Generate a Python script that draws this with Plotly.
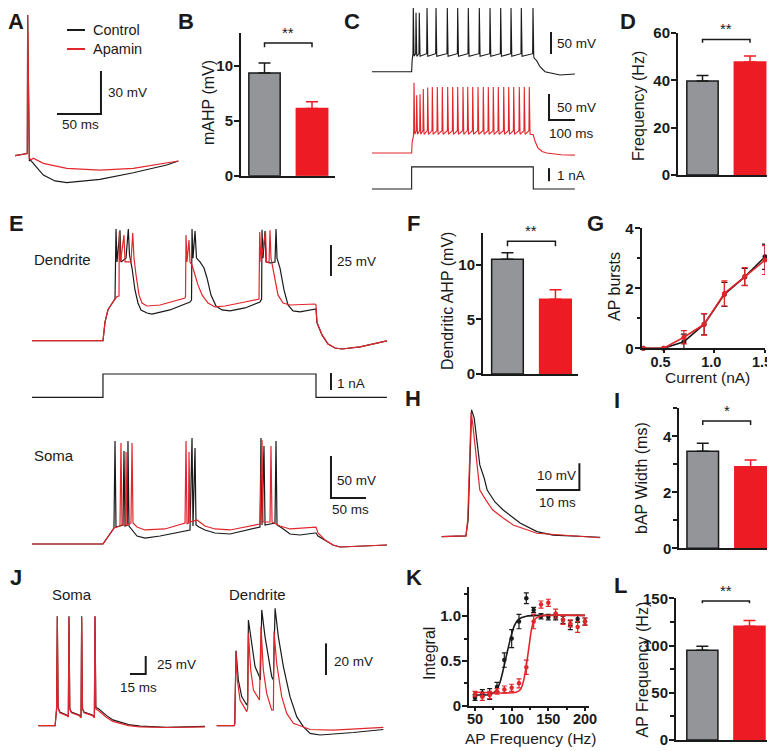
import plotly.graph_objects as go

# ── CONFIG ────────────────────────────────────────────────────────────────────

W, H = 775, 751          # target picture size
OX, OY = 8, 8            # page body margin the figure sits inside
FW, FH = W - OX, H - OY  # actual figure size
FONT = "Liberation Sans, Arial, sans-serif"
INK = "#1a1a1a"
RED = "#e3262c"
GRAY_BAR = "#939598"
RED_BAR = "#ed1c24"

# ── DATA ──────────────────────────────────────────────────────────────────────

# A: single AP + mAHP, (ms, mV)
A_CTRL = [(3.4, -64.1), (14.8, -62.9), (17.4, -62.6), (17.8, 34.1), (18.8, -60.1), (19.7, -67.8),
          (21, -67.1), (26.1, -70.6), (35.6, -77.6), (48.9, -81.7), (62.2, -82.9), (100, -80.6),
          (137.8, -76), (175.8, -70.6), (189, -67.8)]
A_APA = [(3.4, -64.1), (14.8, -62.9), (17.4, -62.6), (17.8, 34.1), (18.8, -60.1), (19.7, -65.7),
         (21.6, -67.1), (24.2, -65.9), (35.6, -69.4), (62.2, -72.9), (100, -74.1), (137.8, -72.9),
         (189, -67.8)]

# bar panels: Control, Apamin (mean, sem)
B_MEAN, B_SEM = [9.35, 6.12], [0.91, 0.61]
D_MEAN, D_SEM = [39.7, 47.7], [2.3, 2.6]
F_MEAN, F_SEM = [10.5, 6.85], [0.6, 0.85]
I_MEAN, I_SEM = [3.47, 2.91], [0.28, 0.24]
L_MEAN, L_SEM = [95.0, 120.5], [4.3, 6.1]

# C: spike trains during 1 nA step (ms, mV)
C_CTRL_SPIKES = [98.3, 104.8, 112.6, 131, 152.4, 179.3, 204, 229.3, 255.5, 281, 306.4, 331, 355.5, 383.3]
C_CTRL_PEAKS = [86.6, 69, 69, 81.4, 81.4, 81, 81.4, 81, 81.4, 81, 81.4, 81, 81.4, 82]
C_CTRL_THR, C_CTRL_AHP = -24, -30
C_CTRL_HEAD = [(0, -65), (94.4, -65), (95.5, -40), (97.3, -31)]
C_CTRL_TAIL = [(386, -34), (392, -40), (400, -53.6), (412, -65), (447.6, -72.5), (483, -70.2)]

C_APA_SPIKES = [100, 106.4, 114.3, 122.1, 132.6, 143.6, 155.5, 167.4, 180.2, 192.1, 204, 216.7,
                227.9, 239.8, 252.4, 265, 276.9, 288.8, 300.7, 313.6, 325.5, 337.4, 350.7, 362.6, 374.5]
C_APA_PEAKS = [70, 46, 48, 58, 61, 62, 62, 62, 62, 62, 62, 62, 62, 62, 62, 62, 62, 62, 62, 62,
               62, 62, 62, 62, 62]
C_APA_THR, C_APA_AHP = -22, -29
C_APA_HEAD = [(0, -65), (94.4, -65), (95.5, -45), (98.5, -33)]
C_APA_TAIL = [(384, -30), (388, -42), (395, -55), (405, -62), (416, -65), (450, -68.5), (483, -69)]

C_CURRENT = [(0, 0), (94.4, 0), (94.4, 1.7), (384, 1.7), (384, 0), (483, 0)]

# E: dendritic and somatic recordings during step (ms, mV)
E_DEND_CTRL = [(0, -65), (101.4, -65), (104.3, -50), (108.6, -40), (114.3, -35), (118.6, -31),
               (120, 25), (121.4, -1.5), (125.7, 24), (127.1, -1.5), (134.3, 1.6), (137.6, 25),
               (139.3, 4), (142.9, -6.4), (147.1, -24.1), (151.4, -34.6), (155.7, -40.2),
               (164.3, -42.7), (171.4, -43.5), (197, -40.2), (225.7, -33.8), (227.9, -32.2),
               (228.6, 25), (230, 1.6), (232.9, 23.5), (235, 1.6), (240, -1.5), (245.7, -6.4),
               (250, -14.4), (255.7, -28.2), (262.9, -37), (271.4, -40.2), (282.9, -41),
               (304.3, -38.6), (325.7, -33.8), (328, -31.4), (328.6, 24.4), (330, 1.6),
               (332.9, 23.5), (334.3, -1.5), (341.4, -2.3), (347.1, -1.5), (348.6, 25), (350, 1.6),
               (354.3, -6.4), (360, -24.1), (365.7, -36.2), (372.9, -41), (382.9, -41.8),
               (404.3, -39.4), (405.7, -39.4), (407.1, -50.6), (414.3, -60.3), (422.9, -67.7),
               (432.9, -70.9), (442.9, -71.7), (468.6, -70), (507, -65.2)]
E_DEND_APA = [(0, -65), (101.4, -65), (104.3, -50), (108.6, -40), (114.3, -35), (121.4, -29.4),
              (124.3, -29), (124.7, 22.7), (126.4, -1.5), (131.4, 20.2), (132.9, -1.5), (141.4, -1.5),
              (143.9, 21.9), (145.7, 1.6), (148.6, -12), (152.9, -28.1), (157.1, -34.6), (164.3, -37),
              (182.9, -36.2), (218.6, -30.6), (219.3, -29), (220, 20.2), (221.4, -1.5), (224.3, 16.2),
              (225.7, -1.5), (228.6, -4), (232.9, -12), (237.1, -20), (242.9, -28.1), (251.4, -34.6),
              (261.4, -37.8), (275.7, -37), (304.3, -33.8), (324.3, -31.4), (325.3, 22.7),
              (327.1, -1.5), (333.6, 22.7), (335, -1.5), (338.6, -2.3), (340, 24), (341.4, 1.6),
              (345.7, -12), (351.4, -28.1), (358.6, -34.6), (368.6, -36.2), (404.3, -35.4),
              (405.7, -36.2), (407.1, -50), (414.3, -60.3), (422.9, -67.7), (432.9, -70.9),
              (442.9, -71.7), (468.6, -70), (507, -65.2)]
E_SOMA_CTRL = [(0, -65), (101.4, -65), (117.1, -46), (118.6, 57.6), (120, -44.8), (130, -42.4),
               (131.4, 45.7), (132.9, -43.6), (136.4, -42.4), (137.1, 57.6), (138.6, -43.6),
               (142.9, -48.3), (150, -55.5), (161.4, -57.9), (182.9, -55.5), (225.7, -48.3),
               (228.6, 61.2), (230, -43.6), (232.9, 49.3), (234.3, -42.4), (238.6, -44.8),
               (247.1, -48.3), (261.4, -51.9), (282.9, -53.1), (325.7, -44.8), (327.1, 61.2),
               (328.6, -42.4), (331.4, 51.7), (332.9, -42.4), (347.1, -40), (348.6, 57.6),
               (350, -42.4), (357.1, -46), (368.6, -53.1), (382.9, -54.3), (404.3, -51.9),
               (405.7, -51.9), (408.6, -55.5), (418.6, -60.2), (430, -66.2), (440, -68.6), (507, -66.2)]
E_SOMA_APA = [(0, -65), (101.4, -65), (117.1, -46), (125.7, -43.6), (127.1, 55.2), (128.6, -42.4),
              (133.5, -42.4), (134.3, 44.5), (135.7, -42.4), (141.4, -40), (142.9, 55.2), (144.3, -40),
              (150, -44.8), (161.4, -48.3), (190, -47.1), (218.6, -40), (220, 57.6), (221.4, -41.2),
              (223.5, -40), (224.3, 44.5), (225.7, -38.8), (235.7, -36.4), (247.1, -43.6),
              (261.4, -47.1), (282.9, -48.3), (325.7, -41.2), (328.6, 58.8), (330, -38.8), (340, -38.8),
              (341.4, 51.7), (342.9, -38.8), (354.3, -43.6), (368.6, -47.1), (404.3, -44.8),
              (405.7, -44.8), (408.6, -51.9), (418.6, -60.2), (430, -66.2), (440, -68.6), (507, -66.2)]
E_CURRENT = [(0, 0), (101.4, 0), (101.4, 1.37), (405.7, 1.37), (405.7, 0), (507, 0)]

# G: AP bursts vs current
G_CURRENT = [0.3, 0.5, 0.7, 0.9, 1.1, 1.3, 1.5]
G_CTRL = [0, 0, 0.22, 0.8, 1.8, 2.38, 3.05]
G_CTRL_SEM = [0, 0, 0.25, 0.35, 0.4, 0.28, 0.42]
G_APA = [0, 0, 0.37, 0.8, 1.83, 2.39, 2.94]
G_APA_SEM = [0, 0, 0.22, 0.36, 0.42, 0.3, 0.48]

# H: backpropagating AP (ms, mV)
H_CTRL = [(0, -65), (5.6, -64.7), (6.1, -58.8), (6.5, -36.3), (6.9, -17.5), (7.5, -20.5),
          (8.2, -30.6), (8.8, -38.1), (9.8, -43), (10.5, -47.5), (12.3, -52), (14.2, -55),
          (18.1, -59.9), (22, -63.1), (25.7, -64.4), (36.6, -65.2)]
H_APA = [(0, -65), (5.6, -64.7), (6, -58.8), (6.4, -36.3), (6.8, -18.3), (7.2, -23.2),
         (7.7, -30.6), (8.2, -39.2), (8.8, -47.5), (10.2, -51.3), (11.8, -55), (14.2, -58),
         (16.5, -60.6), (22, -63.7), (36.6, -65.4)]

# J: 4-AP trains, soma and dendrite (ms, mV)
J_SOMA_CTRL = [(0, -65), (16, -65), (17.4, -42), (18.1, 87), (18.9, -40), (20.5, -46), (27, -50),
               (28.6, -52), (29.2, 87), (30, -41), (31.5, -46), (39, -50), (40.7, -53), (41.3, 87),
               (42.1, -41), (43.5, -46), (51.5, -50), (53.4, -53), (54, 87), (54.8, -40),
               (57.1, -41), (61, -46), (65.1, -51), (71, -57), (77.8, -60), (86, -63.5),
               (96.9, -65.5), (122.3, -67.2), (158.8, -66)]
J_SOMA_APA = [(0, -65), (16, -65), (17.4, -42), (18.1, 87), (18.9, -41), (20.5, -47), (27, -51),
              (28.6, -53), (29.2, 86), (30, -42), (31.5, -47), (39, -51), (40.7, -54), (41.3, 86),
              (42.1, -42), (43.5, -47), (51.5, -51), (53.4, -54), (54, 87), (54.8, -42),
              (57.1, -44), (61, -49), (65.1, -53.5), (71, -59), (77.8, -62), (86, -65),
              (96.9, -66.5), (122.3, -67.5), (158.8, -66.5)]
J_DEND_CTRL = [(0, -65), (16.5, -65), (17.2, -64), (18.4, -17.5), (20.6, -36.1), (23.8, -46.6),
               (28.6, -51.9), (29.5, -50), (30.2, 1.9), (33.4, -14.9), (36.5, -27.6), (40.7, -34),
               (41.6, -36.1), (42.9, 8.3), (46, -8.6), (49.2, -21.3), (52.4, -34), (54, -36.1),
               (55.6, 9.3), (58.7, -8.6), (63.5, -27.6), (69.8, -46.6), (76.2, -59.3),
               (82.5, -65.6), (88.9, -69.9), (98.4, -70.9), (111.1, -70.3), (130.2, -69.3),
               (158.7, -67.4)]
J_DEND_APA = [(0, -65), (16.5, -65), (17.2, -64), (18.4, -18.1), (19.7, -36.1), (22.2, -48.7),
              (28.6, -56.1), (29.5, -54), (30.2, -6.5), (32.4, -29.7), (35, -42.4), (40.7, -48.7),
              (42.2, -2.3), (44.4, -29.7), (47.6, -44.5), (52.4, -55.1), (54, -55), (54.6, -5.4),
              (57.1, -25.5), (61.9, -46.6), (66.7, -57.2), (73, -63.5), (79.4, -65), (88.9, -67.4),
              (111.1, -67.8), (158.7, -66.1)]

# K: normalised integral vs AP frequency
K_FREQ = [50, 60, 70, 80, 90, 100, 110, 120, 130, 140, 150, 160, 170, 180, 190, 200]
K_CTRL = [0.09, 0.14, 0.13, 0.21, 0.51, 0.75, 0.94, 1.2, 1.07, 1.0, 0.99, 0.99, 0.96, 0.9, 0.97, 0.94]
K_CTRL_SEM = [0.03, 0.04, 0.06, 0.05, 0.08, 0.1, 0.08, 0.06, 0.03, 0.03, 0.03, 0.03, 0.04, 0.05, 0.04, 0.04]
K_APA = [0.13, 0.1, 0.12, 0.16, 0.18, 0.2, 0.25, 0.43, 0.94, 1.13, 1.15, 1.03, 0.96, 0.92, 0.88, 0.94]
K_APA_SEM = [0.03, 0.04, 0.04, 0.03, 0.04, 0.04, 0.05, 0.08, 0.08, 0.04, 0.04, 0.05, 0.05, 0.04, 0.06, 0.04]
K_FIT_CTRL = [(50, 0.12), (70, 0.125), (78, 0.16), (84, 0.26), (89, 0.42), (94, 0.6), (99, 0.77),
              (104, 0.9), (110, 0.97), (120, 1.0), (140, 1.01), (200, 1.01)]
K_FIT_APA = [(50, 0.15), (106, 0.15), (112, 0.18), (116, 0.27), (120, 0.45), (124, 0.68),
             (127, 0.85), (131, 0.96), (138, 1.0), (150, 1.01), (200, 1.01)]

# ── HELPERS ───────────────────────────────────────────────────────────────────

fig = go.Figure()
layout_axes = {}
annotations = []
shapes = []
n_axes = [0]

TICKFONT = dict(family=FONT, size=15, color=INK, weight="bold")


def px_x(x):
    return (x - OX) / FW


def px_y(y):
    return 1 - (y - OY) / FH


def new_axes(box, xr, yr, xstyle=None, ystyle=None):
    n_axes[0] += 1
    s = "" if n_axes[0] == 1 else str(n_axes[0])
    x0, x1, y0, y1 = box
    hidden = dict(visible=False, fixedrange=True)
    xa = dict(domain=[px_x(x0), px_x(x1)], range=xr, anchor="y" + s, automargin=False,
              **(xstyle or hidden))
    ya = dict(domain=[px_y(y1), px_y(y0)], range=yr, anchor="x" + s, automargin=False,
              **(ystyle or hidden))
    layout_axes["xaxis" + s] = xa
    layout_axes["yaxis" + s] = ya
    return "x" + s, "y" + s


def trace_axes(box, x_px0, px_per_ms, y_pxref, v_ref, px_per_mv):
    x0, x1, y0, y1 = box
    x0, y0 = max(x0, OX), max(y0, OY)
    x1, y1 = min(x1, W), min(y1, H)
    xr = [(x0 - x_px0) / px_per_ms, (x1 - x_px0) / px_per_ms]
    yr = [v_ref - (y1 - y_pxref) / px_per_mv, v_ref + (y_pxref - y0) / px_per_mv]
    return new_axes((x0, x1, y0, y1), xr, yr)


def add_line(pts, ax, color, width=1.2):
    fig.add_trace(go.Scatter(x=[p[0] for p in pts], y=[p[1] for p in pts], mode="lines",
                             line=dict(color=color, width=width), xaxis=ax[0], yaxis=ax[1],
                             hoverinfo="skip"))


def spike_train(spikes, peaks, thr, ahp):
    pts = []
    for ts, vp in zip(spikes, peaks):
        pts += [(ts - 0.8, thr), (ts, vp), (ts + 1.8, ahp)]
    return pts


def label(px, py, text, size=13.5, anchor="left", angle=0, pad=1):
    annotations.append(dict(x=px_x(px), y=px_y(py), xref="paper", yref="paper", text=text,
                            showarrow=False, xanchor=anchor, yanchor="middle", textangle=angle,
                            borderpad=pad, font=dict(family=FONT, size=size, color=INK)))


def panel_letter(px, py, letter):
    label(px, py, "<b>%s</b>" % letter, size=22, anchor="center", pad=0)


def bar_axes_style(tickvals, minor=None):
    xs = dict(showline=True, linecolor=INK, linewidth=2, ticks="", showticklabels=False,
              showgrid=False, zeroline=False, fixedrange=True)
    ys = dict(showline=True, linecolor=INK, linewidth=2, ticks="outside", ticklen=5, tickwidth=2,
              tickcolor=INK, tickmode="array", tickvals=tickvals, ticktext=[str(v) for v in tickvals],
              tickfont=TICKFONT, ticklabelstandoff=-2, showgrid=False, zeroline=False, fixedrange=True)
    if minor:
        ys["minor"] = dict(ticks="outside", ticklen=4, tickwidth=1.5, tickcolor=INK, dtick=minor, showgrid=False)
    return xs, ys


def bar_panel(box, xr, top, tickvals, means, sems, sig, stars, minor=None):
    xs, ys = bar_axes_style(tickvals, minor)
    ax = new_axes(box, xr, [0, top], xs, ys)
    for i, (m, s) in enumerate(zip(means, sems)):
        fill = GRAY_BAR if i == 0 else RED_BAR
        edge = INK if i == 0 else RED_BAR
        fig.add_trace(go.Bar(x=[i], y=[m], width=0.66,
                             marker=dict(color=fill, line=dict(color=edge, width=1.5)),
                             error_y=dict(type="data", array=[s], arrayminus=[0], symmetric=False,
                                          color=edge, thickness=1.5, width=6),
                             xaxis=ax[0], yaxis=ax[1], hoverinfo="skip"))
    lo, hi = sig
    fig.add_trace(go.Scatter(x=[0, 0, 1, 1], y=[lo, hi, hi, lo], mode="lines",
                             line=dict(color=INK, width=1.5), xaxis=ax[0], yaxis=ax[1],
                             hoverinfo="skip"))
    annotations.append(dict(x=0.5, y=hi, xref=ax[0], yref=ax[1], text=stars, showarrow=False,
                            yanchor="bottom", font=dict(family=FONT, size=15, color=INK)))
    return ax


def scale_bar(ax, pts):
    add_line(pts, ax, INK, width=2)

# ── PANEL A ───────────────────────────────────────────────────────────────────

axA = trace_axes((5, 185, 10, 190), 12, 0.88, 157, -65, 1.433)
add_line(A_CTRL, axA, INK)
add_line(A_APA, axA, RED)
scale_bar(axA, [(51.1, -35), (101.1, -35), (101.1, -5)])
label(106, 92, "30 mV")
label(80, 125, "50 ms", anchor="center")
shapes.append(dict(type="line", xref="paper", yref="paper", x0=px_x(67), x1=px_x(85),
                   y0=px_y(30), y1=px_y(30), line=dict(color=INK, width=2)))
shapes.append(dict(type="line", xref="paper", yref="paper", x0=px_x(67), x1=px_x(85),
                   y0=px_y(49), y1=px_y(49), line=dict(color=RED, width=2)))
label(91, 30, "Control", size=14.5)
label(91, 49, "Apamin", size=14.5)
panel_letter(16, 22, "A")

# ── PANEL B ───────────────────────────────────────────────────────────────────

bar_panel((241, 335, 33, 175.7), [-0.495, 1.484], 13, [0, 5, 10], B_MEAN, B_SEM, (11.7, 12.1), "**")
label(208, 103, "mAHP (mV)", size=16, anchor="center", angle=-90)
panel_letter(186, 22, "B")

# ── PANEL C ───────────────────────────────────────────────────────────────────

axCb = trace_axes((372, 575, 0, 80), 372, 0.42, 71.7, -65, 0.44)
add_line(C_CTRL_HEAD + spike_train(C_CTRL_SPIKES, C_CTRL_PEAKS, C_CTRL_THR, C_CTRL_AHP) + C_CTRL_TAIL,
         axCb, INK, 1.1)
scale_bar(axCb, [(426.2, -25), (426.2, 25)])
label(555, 43, "50 mV")

axCr = trace_axes((372, 575, 78, 160), 372, 0.42, 153, -65, 0.52)
add_line(C_APA_HEAD + spike_train(C_APA_SPIKES, C_APA_PEAKS, C_APA_THR, C_APA_AHP) + C_APA_TAIL,
         axCr, RED, 1.1)
scale_bar(axCr, [(421.4, 48.5), (421.4, -1.5), (521.4, -1.5)])
label(555, 107, "50 mV")
label(571, 134, "100 ms", anchor="center")

axCi = trace_axes((372, 575, 160, 195), 372, 0.42, 189, 0, 13)
add_line(C_CURRENT, axCi, INK, 1.1)
scale_bar(axCi, [(421.4, 0.6), (421.4, 1.6)])
label(555, 175, "1 nA")
panel_letter(352, 22, "C")

# ── PANEL D ───────────────────────────────────────────────────────────────────

bar_panel((678, 767, 33, 175), [-0.516, 1.358], 60, [0, 20, 40, 60], D_MEAN, D_SEM, (55.9, 57.3), "**")
label(638, 106, "Frequency (Hz)", size=16, anchor="center", angle=-90)
panel_letter(628, 22, "D")

# ── PANEL E ───────────────────────────────────────────────────────────────────

axEd = trace_axes((28, 392, 215, 355), 32, 0.7, 340.7, -65, 1.24)
add_line(E_DEND_CTRL, axEd, INK)
add_line(E_DEND_APA, axEd, RED)
scale_bar(axEd, [(427.1, -12.8), (427.1, 12.2)])
label(335, 261, "25 mV")
label(32, 259, "Dendrite", size=15)

axEi = trace_axes((28, 392, 360, 405), 32, 0.7, 397.3, 0, 17)
add_line(E_CURRENT, axEi, INK)
scale_bar(axEi, [(427.1, 0.43), (427.1, 1.43)])
label(335, 383.5, "1 nA")

axEs = trace_axes((28, 392, 425, 560), 32, 0.7, 544, -65, 0.84)
add_line(E_SOMA_CTRL, axEs, INK)
add_line(E_SOMA_APA, axEs, RED)
scale_bar(axEs, [(427.1, 39.8), (427.1, -10.2), (477.1, -10.2)])
label(335, 480, "50 mV")
label(350, 509, "50 ms", anchor="center")
label(32, 455, "Soma", size=15)
panel_letter(16, 223, "E")

# ── PANEL F ───────────────────────────────────────────────────────────────────

bar_panel((483, 578, 233, 374), [-0.51, 1.47], 12.9, [0, 5, 10], F_MEAN, F_SEM, (11.68, 12.14), "**")
label(447, 301, "Dendritic AHP (mV)", size=16, anchor="center", angle=-90)
panel_letter(413, 223, "F")

# ── PANEL G ───────────────────────────────────────────────────────────────────

gx = dict(showline=True, linecolor=INK, linewidth=2, ticks="outside", ticklen=3, tickwidth=2,
          tickcolor=INK, tickmode="array", tickvals=[0.5, 1.0, 1.5], ticktext=["0.5", "1.0", "1.5"],
          tickfont=dict(TICKFONT, size=14.5), ticklabelstandoff=-4, ticklabelshift=-3,
          ticklabeloverflow="allow", showgrid=False, zeroline=False, fixedrange=True)
gy = dict(showline=True, linecolor=INK, linewidth=2, ticks="outside", ticklen=5, tickwidth=2,
          tickcolor=INK, tickmode="array", tickvals=[0, 2, 4], ticktext=["0", "2", "4"],
          tickfont=TICKFONT, ticklabelstandoff=-2, showgrid=False, zeroline=False, fixedrange=True,
          minor=dict(ticks="outside", ticklen=3, tickwidth=1.5, tickcolor=INK, dtick=1, showgrid=False))
axG = new_axes((641.7, 765, 228.3, 348.3), [0.284, 1.5], [0, 4], gx, gy)
for ys, es, col in [(G_CTRL, G_CTRL_SEM, INK), (G_APA, G_APA_SEM, RED)]:
    fig.add_trace(go.Scatter(x=G_CURRENT, y=ys, mode="lines+markers", cliponaxis=False,
                             line=dict(color=col, width=1.6), marker=dict(color=col, size=5),
                             error_y=dict(type="data", array=es, color=col, thickness=1.2, width=3),
                             xaxis=axG[0], yaxis=axG[1], hoverinfo="skip"))
label(614, 287, "AP bursts", size=16, anchor="center", angle=-90)
label(707.5, 377, "Current (nA)", size=15.5, anchor="center")
panel_letter(595, 223, "G")

# ── PANEL H ───────────────────────────────────────────────────────────────────

axH = trace_axes((435, 605, 400, 545), 441.7, 4.33, 536.7, -65, 2.67)
add_line(H_CTRL, axH, INK)
add_line(H_APA, axH, RED)
scale_bar(axH, [(21.8, -47.5), (31.8, -47.5), (31.8, -37.5)])
label(535, 475, "10 mV")
label(557, 502, "10 ms", anchor="center")
panel_letter(413, 398, "H")

# ── PANEL I ───────────────────────────────────────────────────────────────────

bar_panel((679.3, 775, 408.3, 548.3), [-0.49, 1.51], 5, [0, 2, 4], I_MEAN, I_SEM, (4.4, 4.55), "*", minor=1)
label(642, 478, "bAP Width (ms)", size=16, anchor="center", angle=-90)
panel_letter(617, 400, "I")

# ── PANEL J ───────────────────────────────────────────────────────────────────

axJs = trace_axes((35, 212, 600, 740), 38.3, 1.05, 725.7, -65, 0.72)
add_line(J_SOMA_CTRL, axJs, INK)
add_line(J_SOMA_APA, axJs, RED)
scale_bar(axJs, [(87.3, 6.8), (102.3, 6.8), (102.3, 31.8)])
label(155, 664, "25 mV")
label(138, 687, "15 ms", anchor="center")
label(50, 594, "Soma", size=15)

axJd = trace_axes((214, 392, 600, 740), 216.7, 1.05, 725.7, -65, 1.58)
add_line(J_DEND_CTRL, axJd, INK)
add_line(J_DEND_APA, axJd, RED)
scale_bar(axJd, [(104.1, -32.9), (104.1, -12.9)])
label(332, 661, "20 mV")
label(227, 594, "Dendrite", size=15)
panel_letter(16, 577, "J")

# ── PANEL K ───────────────────────────────────────────────────────────────────

kx = dict(showline=True, linecolor=INK, linewidth=2, ticks="outside", ticklen=3, tickwidth=2,
          tickcolor=INK, tickmode="array", tickvals=[50, 100, 150, 200], ticktext=["50", "100", "150", "200"],
          tickfont=dict(TICKFONT, size=14.5), ticklabelstandoff=-4, ticklabeloverflow="allow",
          showgrid=False, zeroline=False, fixedrange=True,
          minor=dict(ticks="outside", ticklen=2, tickwidth=1.5, tickcolor=INK, dtick=25, showgrid=False))
ky = dict(showline=True, linecolor=INK, linewidth=2, ticks="outside", ticklen=5, tickwidth=2,
          tickcolor=INK, tickmode="array", tickvals=[0, 0.5, 1.0], ticktext=["0", "0.5", "1.0"],
          tickfont=TICKFONT, ticklabelstandoff=-2, showgrid=False, zeroline=False, fixedrange=True,
          minor=dict(ticks="outside", ticklen=3, tickwidth=1.5, tickcolor=INK, dtick=0.25, showgrid=False))
axK = new_axes((469, 589, 586.7, 705.7), [41.8, 205.5], [0, 1.33], kx, ky)
for ys, es, fit, col in [(K_CTRL, K_CTRL_SEM, K_FIT_CTRL, INK), (K_APA, K_APA_SEM, K_FIT_APA, RED)]:
    fig.add_trace(go.Scatter(x=[p[0] for p in fit], y=[p[1] for p in fit], mode="lines",
                             line=dict(color=col, width=1.6, shape="spline", smoothing=0.8),
                             xaxis=axK[0], yaxis=axK[1], hoverinfo="skip"))
    fig.add_trace(go.Scatter(x=K_FREQ, y=ys, mode="markers", cliponaxis=False,
                             marker=dict(color=col, size=4.5),
                             error_y=dict(type="data", array=es, color=col, thickness=1.2, width=2.5),
                             xaxis=axK[0], yaxis=axK[1], hoverinfo="skip"))
label(429, 654, "Integral", size=16, anchor="center", angle=-90)
label(531, 738, "AP Frequency (Hz)", size=15.5, anchor="center")
panel_letter(414, 577, "K")

# ── PANEL L ───────────────────────────────────────────────────────────────────

bar_panel((676, 773, 598.3, 740), [-0.56, 1.5], 150, [0, 50, 100, 150], L_MEAN, L_SEM, (144.7, 147.1), "**",
          minor=25)
label(641.5, 670, "AP Frequency (Hz)", size=16, anchor="center", angle=-90)
panel_letter(620, 585, "L")

# ── LAYOUT ────────────────────────────────────────────────────────────────────

fig.update_layout(
    width=FW, height=FH,
    margin=dict(l=0, r=0, t=0, b=0, pad=0, autoexpand=False),
    paper_bgcolor="white", plot_bgcolor="white",
    showlegend=False, barmode="overlay",
    font=dict(family=FONT, color=INK),
    annotations=annotations, shapes=shapes,
    **layout_axes,
)

fig.write_html("out.html")
